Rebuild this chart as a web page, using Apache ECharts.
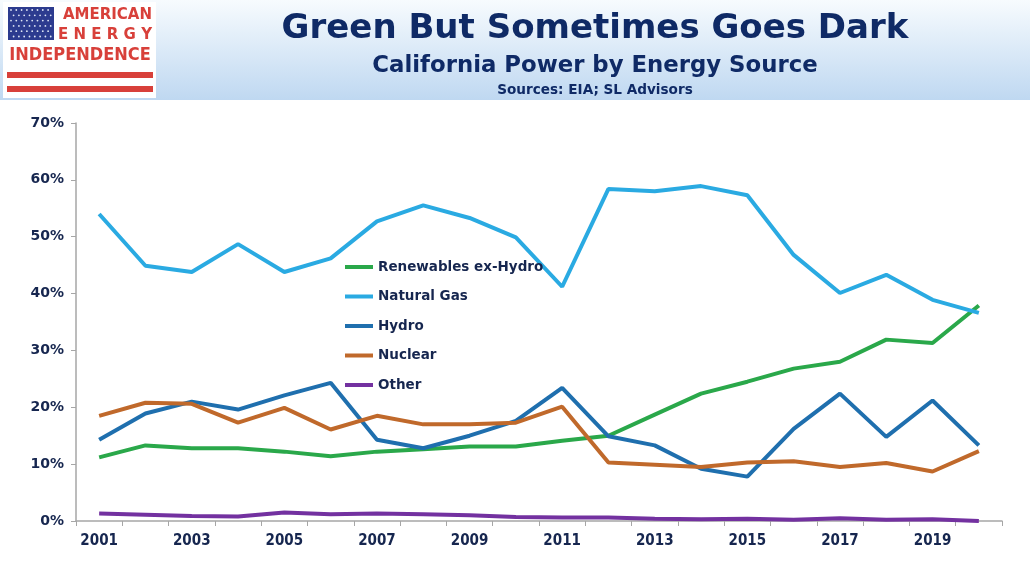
<!DOCTYPE html>
<html>
<head>
<meta charset="utf-8">
<script src="https://cdn.jsdelivr.net/npm/echarts@6/dist/echarts.min.js"></script>
<style>
  html, body { margin: 0; padding: 0; background: #fff; }
  #chart { width: 1030px; height: 579px; }
</style>
</head>
<body>
<div id="chart"></div>
<script>
var years = ['2001','2002','2003','2004','2005','2006','2007','2008','2009','2010',
             '2011','2012','2013','2014','2015','2016','2017','2018','2019','2020'];

// share of California generation, %
var renewables = [11.2, 13.3, 12.8, 12.8, 12.2, 11.4, 12.2, 12.6, 13.1, 13.1,
                  14.1, 15.0, 18.7, 22.4, 24.5, 26.8, 28.0, 31.9, 31.3, 37.9];
var naturalGas = [54.0, 44.9, 43.8, 48.7, 43.8, 46.2, 52.7, 55.5, 53.3, 49.9,
                  41.2, 58.4, 58.0, 58.9, 57.3, 46.8, 40.1, 43.3, 38.9, 36.6];
var hydro      = [14.3, 18.9, 21.0, 19.6, 22.1, 24.3, 14.3, 12.8, 15.0, 17.6,
                  23.4, 14.9, 13.3, 9.2, 7.8, 16.2, 22.4, 14.8, 21.2, 13.3];
var nuclear    = [18.5, 20.8, 20.6, 17.3, 19.9, 16.1, 18.5, 17.0, 17.0, 17.3,
                  20.1, 10.3, 9.9, 9.5, 10.3, 10.5, 9.5, 10.2, 8.7, 12.3];
var other      = [1.3, 1.1, 0.9, 0.8, 1.5, 1.2, 1.3, 1.2, 1.0, 0.7,
                  0.6, 0.6, 0.4, 0.3, 0.4, 0.2, 0.5, 0.2, 0.3, 0.0];

var seriesNames  = ['Renewables ex-Hydro', 'Natural Gas', 'Hydro', 'Nuclear', 'Other'];
var seriesColors = ['#2aa84a', '#2aaae2', '#1f6fae', '#c0692b', '#7331a0'];
var seriesData   = [renewables, naturalGas, hydro, nuclear, other];

var navy = '#16264f';
var titleBlue = '#0f2a66';
var red = '#d8403a';

// little star field for the logo flag (decoration)
var stars = [];
for (var r = 0; r < 6; r++) {
    for (var c = 0; c < 8; c++) {
        stars.push({
            type: 'circle',
            shape: { cx: 11 + c * 5.3 + (r % 2 ? 2.6 : 0), cy: 10 + r * 5.3, r: 0.9 },
            style: { fill: '#dfe6f5' }
        });
    }
}

var chart = echarts.init(document.getElementById('chart'));

chart.setOption({
    backgroundColor: '#ffffff',
    animation: false,
    textStyle: { fontFamily: 'DejaVu Sans' },
    graphic: [
        {   // header band
            type: 'rect', z: -10,
            shape: { x: 0, y: 0, width: 1030, height: 100 },
            style: {
                fill: new echarts.graphic.LinearGradient(0, 0, 0, 1, [
                    { offset: 0, color: '#f7fbfe' },
                    { offset: 1, color: '#bfd8f1' }
                ])
            }
        },
        {   // logo
            type: 'group',
            children: [
                { type: 'rect', shape: { x: 3, y: 2, width: 153, height: 96 }, style: { fill: '#ffffff' } },
                { type: 'rect', shape: { x: 8, y: 7, width: 46, height: 33 }, style: { fill: '#2c3b8f' } }
            ].concat(stars).concat([
                { type: 'text', style: { x: 152, y: 15, text: 'AMERICAN', fill: red, font: 'bold 15px "DejaVu Sans"', textAlign: 'right', textVerticalAlign: 'middle' } },
                { type: 'text', style: { x: 152, y: 35, text: 'E N E R G Y', fill: red, font: 'bold 15px "DejaVu Sans"', textAlign: 'right', textVerticalAlign: 'middle' } },
                { type: 'text', style: { x: 80, y: 55, text: 'INDEPENDENCE', fill: red, font: 'bold 18px "DejaVu Sans Condensed"', textAlign: 'center', textVerticalAlign: 'middle' } },
                { type: 'rect', shape: { x: 7, y: 72, width: 146, height: 6 }, style: { fill: red } },
                { type: 'rect', shape: { x: 7, y: 86, width: 146, height: 6 }, style: { fill: red } }
            ])
        },
        {
            type: 'text',
            style: { x: 595, y: 29, text: 'Green But Sometimes Goes Dark', fill: titleBlue,
                     font: 'bold 34px "DejaVu Sans"', textAlign: 'center', textVerticalAlign: 'middle' }
        },
        {
            type: 'text',
            style: { x: 595, y: 66, text: 'California Power by Energy Source', fill: titleBlue,
                     font: 'bold 22.8px "DejaVu Sans"', textAlign: 'center', textVerticalAlign: 'middle' }
        },
        {
            type: 'text',
            style: { x: 595, y: 90, text: 'Sources: EIA; SL Advisors', fill: titleBlue,
                     font: 'bold 13.6px "DejaVu Sans"', textAlign: 'center', textVerticalAlign: 'middle' }
        }
    ],
    legend: {
        orient: 'vertical',
        left: 340,
        top: 255,
        itemWidth: 28,
        itemHeight: 4,
        itemGap: 15.5,
        icon: 'rect',
        data: seriesNames,
        textStyle: { color: navy, fontWeight: 'bold', fontSize: 13.5, fontFamily: 'DejaVu Sans' }
    },
    grid: { left: 76, right: 28, top: 123, bottom: 58 },
    xAxis: {
        type: 'category',
        data: years,
        boundaryGap: true,
        axisLine: { lineStyle: { color: '#a6a6a6', width: 1.5 } },
        axisTick: { show: true, interval: 0, length: 5, lineStyle: { color: '#a6a6a6' } },
        axisLabel: {
            interval: 1, margin: 13,
            color: navy, fontWeight: 'bold', fontSize: 15, fontFamily: 'DejaVu Sans Condensed'
        }
    },
    yAxis: {
        type: 'value',
        min: 0, max: 70, interval: 10,
        axisLine: { show: true, lineStyle: { color: '#a6a6a6', width: 1.5 } },
        axisTick: { show: true, length: 5, lineStyle: { color: '#a6a6a6' } },
        splitLine: { show: false },
        axisLabel: {
            formatter: '{value}%', margin: 12,
            color: navy, fontWeight: 'bold', fontSize: 14, fontFamily: 'DejaVu Sans'
        }
    },
    series: seriesNames.map(function (name, i) {
        return {
            name: name,
            type: 'line',
            data: seriesData[i],
            showSymbol: false,
            symbol: 'none',
            color: seriesColors[i],
            lineStyle: { width: 4, color: seriesColors[i] }
        };
    })
});
</script>
</body>
</html>
